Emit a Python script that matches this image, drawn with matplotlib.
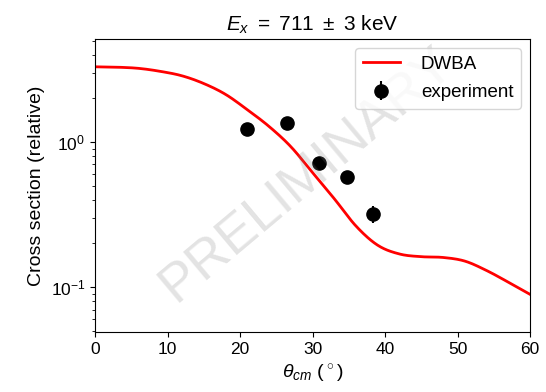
import matplotlib
matplotlib.use("Agg")
import matplotlib.pyplot as plt
import numpy as np

plt.rcParams['font.family'] = ['Liberation Sans', 'DejaVu Sans']
plt.rcParams['mathtext.fontset'] = 'custom'
plt.rcParams['mathtext.rm'] = 'Liberation Sans'
plt.rcParams['mathtext.it'] = 'Liberation Sans:italic'

# DWBA curve (every 3 degrees)
dwba_theta = [0, 3, 6, 9, 12, 15, 18, 21, 24, 27, 30, 33, 36, 39, 42, 45, 48, 51, 54, 57, 60]
dwba_xs = [3.30, 3.28, 3.22, 3.07, 2.86, 2.53, 2.13, 1.67, 1.28, 0.929, 0.615, 0.406,
           0.263, 0.194, 0.169, 0.162, 0.160, 0.151, 0.130, 0.108, 0.089]

# experiment points
exp_theta = [20.9, 26.5, 30.9, 34.8, 38.3]
exp_xs = [1.23, 1.36, 0.72, 0.57, 0.32]
exp_err = [0.04, 0.04, 0.03, 0.02, 0.045]


def smooth(x, y, n=400):
    # cubic hermite through the read points
    x = np.asarray(x, float)
    y = np.asarray(y, float)
    m = np.gradient(y, x)
    xs = np.linspace(x[0], x[-1], n)
    i = np.clip(np.searchsorted(x, xs) - 1, 0, len(x) - 2)
    h = x[i + 1] - x[i]
    t = (xs - x[i]) / h
    h00 = 2*t**3 - 3*t**2 + 1
    h10 = t**3 - 2*t**2 + t
    h01 = -2*t**3 + 3*t**2
    h11 = t**3 - t**2
    return xs, h00*y[i] + h10*h*m[i] + h01*y[i + 1] + h11*h*m[i + 1]


fig, ax = plt.subplots(figsize=(5.46, 3.92), dpi=100)

th, ly = smooth(dwba_theta, np.log10(dwba_xs))
ax.plot(th, 10**ly, color='red', lw=2, label='DWBA')
ax.errorbar(exp_theta, exp_xs, yerr=exp_err, fmt='o', color='black', ms=9.5, label='experiment')

ax.set_yscale('log')
ax.set_xlim(0, 60)
ax.set_ylim(0.049, 5.13)
ax.set_xlabel(r'$\theta_{cm}$ ($\,^{\circ}\,$)', fontsize=14)
ax.set_ylabel('Cross section (relative)', fontsize=14)
ax.set_title(r'$E_x\ =\ 711\ \pm\ 3$ keV', fontsize=15)
ax.tick_params(labelsize=12.5)
ax.legend(loc='upper right', fontsize=13.5, handletextpad=1.1, labelspacing=0.6)

ax.text(0.487, 0.539, 'PRELIMINARY', transform=ax.transAxes, fontsize=39, color='0.5',
        alpha=0.22, rotation=40, ha='center', va='center')

fig.subplots_adjust(left=0.174, right=0.971, top=0.9005, bottom=0.153)
fig.savefig('out.png')
